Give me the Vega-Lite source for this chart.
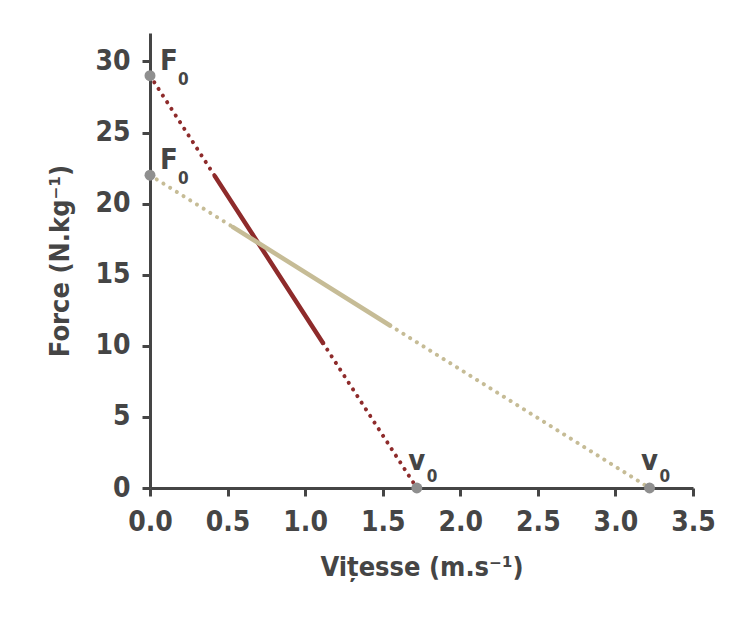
{
  "$schema": "https://vega.github.io/schema/vega-lite/v6.json",
  "width": 543,
  "height": 455,
  "autosize": "none",
  "padding": {"left": 150, "top": 33, "right": 57, "bottom": 155},
  "background": "white",
  "config": {
    "view": {"stroke": null},
    "font": "DejaVu Sans Condensed, sans-serif",
    "axis": {
      "grid": false,
      "domainColor": "#454545",
      "domainWidth": 3,
      "tickColor": "#454545",
      "tickWidth": 3,
      "tickSize": 8,
      "labelFont": "DejaVu Sans Condensed, sans-serif",
      "labelFontSize": 28,
      "labelFontWeight": "bold",
      "labelColor": "#454545",
      "labelPadding": 12,
      "labelFlush": false,
      "labelOverlap": false,
      "titleFont": "DejaVu Sans Condensed, sans-serif",
      "titleFontSize": 27,
      "titleFontWeight": "bold",
      "titleColor": "#454545"
    }
  },
  "datasets": {
    "lines": [
      {"series": "A", "part": "dotted", "seg": "A1", "x": 0, "y": 29},
      {"series": "A", "part": "dotted", "seg": "A1", "x": 0.42, "y": 21.9},
      {"series": "A", "part": "solid", "seg": "A2", "x": 0.42, "y": 21.9},
      {"series": "A", "part": "solid", "seg": "A2", "x": 1.115, "y": 10.2},
      {"series": "A", "part": "dotted", "seg": "A3", "x": 1.115, "y": 10.2},
      {"series": "A", "part": "dotted", "seg": "A3", "x": 1.72, "y": 0},
      {"series": "B", "part": "dotted", "seg": "B1", "x": 0, "y": 22},
      {"series": "B", "part": "dotted", "seg": "B1", "x": 0.535, "y": 18.35},
      {"series": "B", "part": "solid", "seg": "B2", "x": 0.535, "y": 18.35},
      {"series": "B", "part": "solid", "seg": "B2", "x": 1.547, "y": 11.43},
      {"series": "B", "part": "dotted", "seg": "B3", "x": 1.547, "y": 11.43},
      {"series": "B", "part": "dotted", "seg": "B3", "x": 3.22, "y": 0}
    ],
    "points": [
      {"series": "A", "kind": "F", "letter": "F", "sub": "0", "x": 0, "y": 29},
      {"series": "B", "kind": "F", "letter": "F", "sub": "0", "x": 0, "y": 22},
      {"series": "A", "kind": "v", "letter": "v", "sub": "0", "x": 1.72, "y": 0},
      {"series": "B", "kind": "v", "letter": "v", "sub": "0", "x": 3.22, "y": 0}
    ]
  },
  "encoding": {
    "x": {
      "field": "x",
      "type": "quantitative",
      "scale": {"domain": [0, 3.5], "nice": false, "zero": false},
      "axis": {"title": "Vițesse (m.s⁻¹)", "format": ".1f", "values": [0, 0.5, 1, 1.5, 2, 2.5, 3, 3.5], "titlePadding": 18}
    },
    "y": {
      "field": "y",
      "type": "quantitative",
      "scale": {"domain": [0, 32], "nice": false},
      "axis": {"title": "Force (N.kg⁻¹)", "values": [0, 5, 10, 15, 20, 25, 30], "titlePadding": 20}
    }
  },
  "layer": [
    {
      "data": {"name": "lines"},
      "transform": [{"filter": "datum.part === 'dotted'"}],
      "mark": {"type": "line", "strokeWidth": 4, "strokeCap": "round", "strokeDash": [0.1, 7.8]},
      "encoding": {
        "detail": {"field": "seg"},
        "color": {"field": "series", "type": "nominal", "scale": {"domain": ["A", "B"], "range": ["#8e2b2b", "#c6bc96"]}, "legend": null}
      }
    },
    {
      "data": {"name": "lines"},
      "transform": [{"filter": "datum.part === 'solid'"}],
      "mark": {"type": "line", "strokeWidth": 4.5, "strokeCap": "round"},
      "encoding": {
        "detail": {"field": "seg"},
        "color": {"field": "series", "type": "nominal", "scale": {"domain": ["A", "B"], "range": ["#8e2b2b", "#c6bc96"]}, "legend": null}
      }
    },
    {
      "data": {"name": "points"},
      "mark": {"type": "circle", "size": 120, "color": "#8f8f8f", "opacity": 1}
    },
    {
      "data": {"name": "points"},
      "transform": [{"filter": "datum.kind === 'F'"}],
      "mark": {"type": "text", "align": "left", "baseline": "alphabetic", "dx": 10, "dy": -6, "fontSize": 29, "fontWeight": "bold", "color": "#454545"},
      "encoding": {"text": {"field": "letter"}}
    },
    {
      "data": {"name": "points"},
      "transform": [{"filter": "datum.kind === 'F'"}],
      "mark": {"type": "text", "align": "left", "baseline": "alphabetic", "dx": 28, "dy": 9, "fontSize": 17, "fontWeight": "bold", "color": "#454545"},
      "encoding": {"text": {"field": "sub"}}
    },
    {
      "data": {"name": "points"},
      "transform": [{"filter": "datum.kind === 'v'"}],
      "mark": {"type": "text", "align": "center", "baseline": "alphabetic", "dx": 0, "dy": -18, "fontSize": 29, "fontWeight": "bold", "color": "#454545"},
      "encoding": {"text": {"field": "letter"}}
    },
    {
      "data": {"name": "points"},
      "transform": [{"filter": "datum.kind === 'v'"}],
      "mark": {"type": "text", "align": "left", "baseline": "alphabetic", "dx": 10, "dy": -6, "fontSize": 17, "fontWeight": "bold", "color": "#454545"},
      "encoding": {"text": {"field": "sub"}}
    }
  ]
}
